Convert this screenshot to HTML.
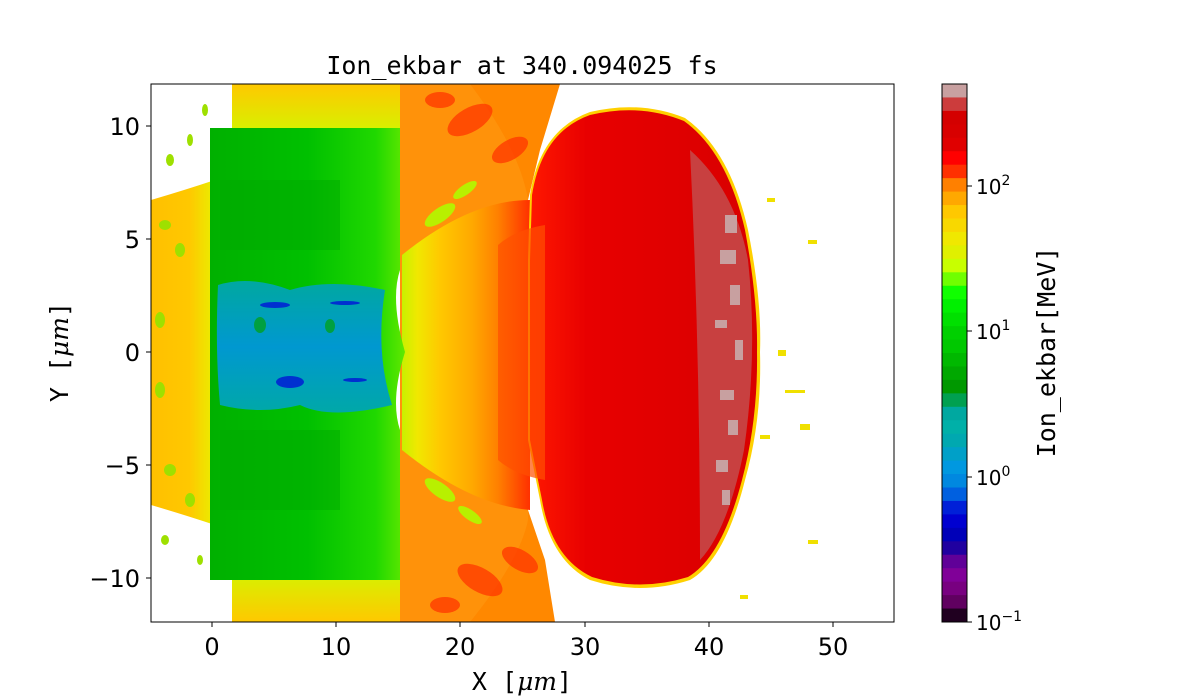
<!DOCTYPE html>
<html><head><meta charset="utf-8"><style>
html,body{margin:0;padding:0;background:#fff;width:1200px;height:700px;overflow:hidden}
svg{display:block}
.t{font-family:"DejaVu Sans","Liberation Sans",sans-serif;font-size:24px;fill:#000}
.m{font-family:"DejaVu Sans Mono","Liberation Mono",monospace;fill:#000}
</style></head><body>
<svg width="1200" height="700" viewBox="0 0 1200 700" xmlns="http://www.w3.org/2000/svg">
<defs>
<clipPath id="pc"><rect x="151" y="84" width="743" height="538"/></clipPath>
<linearGradient id="cone" x1="0" x2="1" y1="0" y2="0">
<stop offset="0" stop-color="#c8f000"/><stop offset="0.12" stop-color="#f0e800"/><stop offset="0.3" stop-color="#ffc800"/><stop offset="0.55" stop-color="#ffa800"/><stop offset="0.75" stop-color="#ff8000"/><stop offset="1" stop-color="#ff3000"/></linearGradient>
<linearGradient id="leftb" x1="0" x2="1"><stop offset="0" stop-color="#ffc000"/><stop offset="0.6" stop-color="#ffc800"/><stop offset="1" stop-color="#e8f000"/></linearGradient>
<linearGradient id="topf" x1="0" x2="0" y1="0" y2="1"><stop offset="0" stop-color="#ffc800"/><stop offset="1" stop-color="#d8f000"/></linearGradient>
<linearGradient id="botf" x1="0" x2="0" y1="1" y2="0"><stop offset="0" stop-color="#ffc800"/><stop offset="1" stop-color="#d8f000"/></linearGradient>
<linearGradient id="grn" x1="0" x2="1"><stop offset="0" stop-color="#00b000"/><stop offset="0.5" stop-color="#00c000"/><stop offset="0.85" stop-color="#20d800"/><stop offset="1" stop-color="#60e800"/></linearGradient>
<linearGradient id="cyan" x1="0" x2="0" y1="0" y2="1"><stop offset="0" stop-color="#00a8a0"/><stop offset="0.5" stop-color="#0098d0"/><stop offset="1" stop-color="#00a8a8"/></linearGradient>
<linearGradient id="rd" x1="0" x2="1"><stop offset="0" stop-color="#ff1800"/><stop offset="0.25" stop-color="#e80000"/><stop offset="1" stop-color="#d80000"/></linearGradient>
</defs>
<text class="m" x="522" y="74" font-size="25" text-anchor="middle">Ion_ekbar at 340.094025 fs</text>
<g clip-path="url(#pc)">
<rect x="151" y="84" width="743" height="538" fill="#fff"/>
<path d="M151 200 Q185 190 215 180 L215 525 Q185 515 151 505 Z" fill="url(#leftb)"/>
<g fill="#9ee000">
<ellipse cx="170" cy="160" rx="4" ry="6"/><ellipse cx="190" cy="140" rx="3" ry="6"/><ellipse cx="165" cy="225" rx="6" ry="5"/><ellipse cx="180" cy="250" rx="5" ry="7"/>
<ellipse cx="170" cy="470" rx="6" ry="6"/><ellipse cx="190" cy="500" rx="5" ry="7"/><ellipse cx="165" cy="540" rx="4" ry="5"/><ellipse cx="200" cy="560" rx="3" ry="5"/>
<ellipse cx="205" cy="110" rx="3" ry="6"/><ellipse cx="160" cy="320" rx="5" ry="8"/><ellipse cx="160" cy="390" rx="5" ry="8"/>
</g>
<rect x="232" y="84" width="175" height="45" fill="url(#topf)"/>
<rect x="232" y="576" width="175" height="46" fill="url(#botf)"/>
<path d="M400 84 L560 84 L540 150 L528 200 L528 510 L545 560 L555 622 L400 622 Z" fill="#ff8800"/>
<path d="M400 84 L470 84 Q520 150 528 200 L528 520 Q520 560 470 622 L400 622 Z" fill="#ff9a10" opacity="0.6"/>
<path d="M402 255 Q470 200 530 200 L530 510 Q470 505 402 450 Z" fill="url(#cone)"/>
<g fill="#ff3000" opacity="0.7">
<ellipse cx="470" cy="120" rx="25" ry="12" transform="rotate(-30 470 120)"/><ellipse cx="510" cy="150" rx="20" ry="10" transform="rotate(-30 510 150)"/>
<ellipse cx="480" cy="580" rx="25" ry="12" transform="rotate(30 480 580)"/><ellipse cx="520" cy="560" rx="20" ry="10" transform="rotate(30 520 560)"/>
<ellipse cx="440" cy="100" rx="15" ry="8"/><ellipse cx="445" cy="605" rx="15" ry="8"/>
</g>
<g fill="#b8f000">
<ellipse cx="440" cy="215" rx="18" ry="7" transform="rotate(-35 440 215)"/><ellipse cx="465" cy="190" rx="14" ry="5" transform="rotate(-35 465 190)"/>
<ellipse cx="440" cy="490" rx="18" ry="7" transform="rotate(35 440 490)"/><ellipse cx="470" cy="515" rx="14" ry="5" transform="rotate(35 470 515)"/>
</g>
<path d="M210 128 L400 128 L400 270 Q390 300 405 352 Q390 400 400 430 L400 580 L210 580 Z" fill="url(#grn)"/>
<rect x="220" y="180" width="120" height="70" fill="#00a800" opacity="0.5"/>
<rect x="220" y="430" width="120" height="80" fill="#00a800" opacity="0.5"/>
<path d="M218 285 Q250 275 290 290 Q330 278 385 290 Q375 352 392 405 Q330 420 300 405 Q260 415 220 405 Q215 350 218 285 Z" fill="url(#cyan)"/>
<g fill="#0030d0">
<ellipse cx="275" cy="305" rx="15" ry="3"/><ellipse cx="290" cy="382" rx="14" ry="6"/><ellipse cx="345" cy="303" rx="15" ry="2"/><ellipse cx="355" cy="380" rx="12" ry="2"/>
</g>
<ellipse cx="260" cy="325" rx="6" ry="8" fill="#00a040"/><ellipse cx="330" cy="326" rx="5" ry="7" fill="#00a040"/>
<path d="M530 195 Q540 130 590 112 Q640 100 685 118 Q730 150 748 230 Q762 300 760 352 Q762 420 745 480 Q725 560 690 580 Q640 596 590 580 Q550 560 540 500 L528 440 L528 260 Z" fill="#ffd000"/>
<path d="M532 195 Q542 132 590 115 Q640 103 684 121 Q727 152 745 230 Q758 300 757 352 Q758 420 742 480 Q722 557 688 577 Q640 592 592 577 Q552 558 542 500 L530 440 L530 260 Z" fill="url(#rd)"/>
<path d="M498 245 Q515 230 545 225 L545 480 Q515 475 498 460 Z" fill="#ff5000" opacity="0.7"/>
<path d="M690 150 Q735 190 748 260 Q758 352 744 450 Q728 530 700 560 Q700 352 690 150 Z" fill="#c84040"/>
<g fill="#c8a0a0">
<rect x="725" y="215" width="12" height="18"/><rect x="720" y="250" width="16" height="14"/><rect x="730" y="285" width="10" height="20"/><rect x="715" y="320" width="12" height="8"/><rect x="735" y="340" width="8" height="20"/><rect x="720" y="390" width="14" height="10"/><rect x="728" y="420" width="10" height="15"/><rect x="716" y="460" width="12" height="12"/><rect x="722" y="490" width="8" height="15"/>
</g>
<g fill="#f0e000">
<rect x="767" y="198" width="8" height="4"/><rect x="808" y="240" width="9" height="4"/><rect x="778" y="350" width="8" height="6"/><rect x="785" y="390" width="20" height="3"/><rect x="800" y="424" width="10" height="6"/><rect x="808" y="540" width="10" height="4"/><rect x="740" y="595" width="8" height="4"/><rect x="760" y="435" width="10" height="4"/>
</g>
</g>
<rect x="151" y="84" width="743" height="538" fill="none" stroke="#000" stroke-width="1"/>
<g stroke="#000" stroke-width="1">
<line x1="212" y1="622" x2="212" y2="627"/><line x1="336" y1="622" x2="336" y2="627"/><line x1="460" y1="622" x2="460" y2="627"/><line x1="585" y1="622" x2="585" y2="627"/><line x1="709" y1="622" x2="709" y2="627"/><line x1="833" y1="622" x2="833" y2="627"/>
<line x1="146" y1="126" x2="151" y2="126"/><line x1="146" y1="239" x2="151" y2="239"/><line x1="146" y1="352" x2="151" y2="352"/><line x1="146" y1="465" x2="151" y2="465"/><line x1="146" y1="578" x2="151" y2="578"/>
</g>
<g class="t" text-anchor="middle">
<text x="212" y="655">0</text><text x="336" y="655">10</text><text x="460" y="655">20</text><text x="585" y="655">30</text><text x="709" y="655">40</text><text x="833" y="655">50</text>
</g>
<g class="t" text-anchor="end">
<text x="140" y="135">10</text><text x="140" y="248">5</text><text x="140" y="361">0</text><text x="140" y="474">−5</text><text x="140" y="587">−10</text>
</g>
<text class="m" x="522" y="690" font-size="25" text-anchor="middle">X [<tspan font-style="italic" font-family="DejaVu Serif, serif">μm</tspan>]</text>
<text class="m" x="68" y="352" font-size="25" text-anchor="middle" transform="rotate(-90 68 352)">Y [<tspan font-style="italic" font-family="DejaVu Serif, serif">μm</tspan>]</text>
<g>
<rect x="942" y="84.0" width="25" height="14.1" fill="#c8a0a0"/>
<rect x="942" y="97.45" width="25" height="14.1" fill="#cc3c3c"/>
<rect x="942" y="110.9" width="25" height="14.1" fill="#d40000"/>
<rect x="942" y="124.35" width="25" height="14.1" fill="#d80000"/>
<rect x="942" y="137.8" width="25" height="14.1" fill="#e00000"/>
<rect x="942" y="151.25" width="25" height="14.1" fill="#ff0000"/>
<rect x="942" y="164.7" width="25" height="14.1" fill="#ff3000"/>
<rect x="942" y="178.15" width="25" height="14.1" fill="#ff8000"/>
<rect x="942" y="191.6" width="25" height="14.1" fill="#ffa800"/>
<rect x="942" y="205.05" width="25" height="14.1" fill="#ffc800"/>
<rect x="942" y="218.5" width="25" height="14.1" fill="#f8d800"/>
<rect x="942" y="231.95" width="25" height="14.1" fill="#f0e800"/>
<rect x="942" y="245.4" width="25" height="14.1" fill="#e0f000"/>
<rect x="942" y="258.85" width="25" height="14.1" fill="#c8ff00"/>
<rect x="942" y="272.3" width="25" height="14.1" fill="#70ff00"/>
<rect x="942" y="285.75" width="25" height="14.1" fill="#10ff00"/>
<rect x="942" y="299.2" width="25" height="14.1" fill="#00f000"/>
<rect x="942" y="312.65" width="25" height="14.1" fill="#00e000"/>
<rect x="942" y="326.1" width="25" height="14.1" fill="#00d000"/>
<rect x="942" y="339.55" width="25" height="14.1" fill="#00c800"/>
<rect x="942" y="353.0" width="25" height="14.1" fill="#00b800"/>
<rect x="942" y="366.45" width="25" height="14.1" fill="#00a800"/>
<rect x="942" y="379.9" width="25" height="14.1" fill="#009800"/>
<rect x="942" y="393.35" width="25" height="14.1" fill="#00a050"/>
<rect x="942" y="406.8" width="25" height="14.1" fill="#00a8a0"/>
<rect x="942" y="420.25" width="25" height="14.1" fill="#00b0a8"/>
<rect x="942" y="433.7" width="25" height="14.1" fill="#00a8b0"/>
<rect x="942" y="447.15" width="25" height="14.1" fill="#00a0c8"/>
<rect x="942" y="460.6" width="25" height="14.1" fill="#0098e0"/>
<rect x="942" y="474.05" width="25" height="14.1" fill="#0088e0"/>
<rect x="942" y="487.5" width="25" height="14.1" fill="#0060e0"/>
<rect x="942" y="500.95" width="25" height="14.1" fill="#0020d8"/>
<rect x="942" y="514.4" width="25" height="14.1" fill="#0000d0"/>
<rect x="942" y="527.85" width="25" height="14.1" fill="#0000b8"/>
<rect x="942" y="541.3" width="25" height="14.1" fill="#2000a0"/>
<rect x="942" y="554.75" width="25" height="14.1" fill="#600098"/>
<rect x="942" y="568.2" width="25" height="14.1" fill="#800098"/>
<rect x="942" y="581.65" width="25" height="14.1" fill="#780080"/>
<rect x="942" y="595.1" width="25" height="14.1" fill="#600060"/>
<rect x="942" y="608.55" width="25" height="13.45" fill="#200020"/>
</g>
<rect x="942" y="84" width="25" height="538" fill="none" stroke="#000"/>
<g stroke="#000"><line x1="967" y1="186" x2="972" y2="186"/><line x1="967" y1="331" x2="972" y2="331"/><line x1="967" y1="477" x2="972" y2="477"/><line x1="967" y1="622" x2="972" y2="622"/></g>
<g class="t">
<text x="976" y="194" font-size="20">10<tspan dy="-9" font-size="14">2</tspan></text>
<text x="976" y="339" font-size="20">10<tspan dy="-9" font-size="14">1</tspan></text>
<text x="976" y="485" font-size="20">10<tspan dy="-9" font-size="14">0</tspan></text>
<text x="976" y="630" font-size="20">10<tspan dy="-9" font-size="14">−1</tspan></text>
</g>
<text class="m" x="1055" y="352" font-size="25" text-anchor="middle" transform="rotate(-90 1055 352)">Ion_ekbar[MeV]</text>
</svg>
</body></html>
